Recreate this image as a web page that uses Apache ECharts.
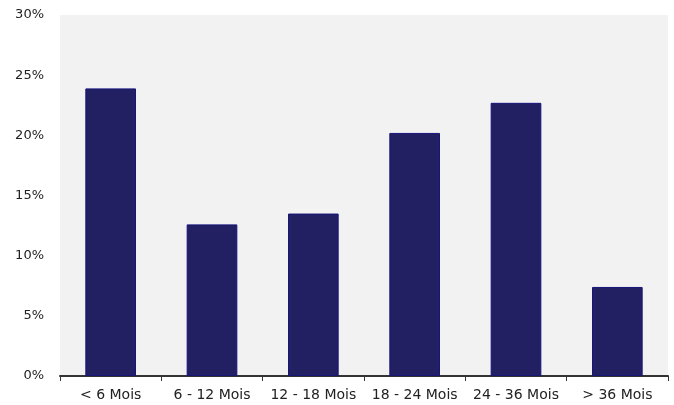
<!DOCTYPE html>
<html>
<head>
<meta charset="utf-8">
<script src="https://cdn.jsdelivr.net/npm/echarts@6/dist/echarts.min.js"></script>
<style>
  html, body { margin: 0; padding: 0; background: #ffffff; }
  #chart { width: 674px; height: 405px; }
</style>
</head>
<body>
<div id="chart"></div>
<script>
// Duration buckets and their share (%)
const categories = ['< 6 Mois', '6 - 12 Mois', '12 - 18 Mois', '18 - 24 Mois', '24 - 36 Mois', '> 36 Mois'];
const shares = [23.9, 12.6, 13.5, 20.2, 22.7, 7.4];
const yTicks = [0, 5, 10, 15, 20, 25, 30];

const chart = echarts.init(document.getElementById('chart'), null, { renderer: 'canvas' });

chart.setOption({
  animation: false,
  grid: {
    left: 60, right: 6, top: 15, bottom: 29,
    show: true, backgroundColor: '#f2f2f2', borderWidth: 0
  },
  xAxis: {
    type: 'category',
    data: categories,
    axisLine: { show: true, lineStyle: { color: '#333333', width: 2 } },
    axisTick: { show: true, alignWithLabel: false, length: 5, lineStyle: { color: '#333333', width: 1 } },
    axisLabel: {
      color: '#222222', fontFamily: 'DejaVu Sans', fontSize: 14, margin: 12, interval: 0
    }
  },
  yAxis: {
    type: 'value',
    min: yTicks[0], max: yTicks[yTicks.length - 1], interval: 5,
    axisLine: { show: false },
    axisTick: { show: false },
    splitLine: { show: false },
    axisLabel: {
      color: '#222222', fontFamily: 'DejaVu Sans', fontSize: 13, margin: 16,
      formatter: v => v + '%'
    }
  },
  series: [{
    type: 'bar',
    data: shares,
    barWidth: '50%',
    itemStyle: { color: '#221f62', borderColor: '#16157a', borderWidth: 1 }
  }]
});
</script>
</body>
</html>
